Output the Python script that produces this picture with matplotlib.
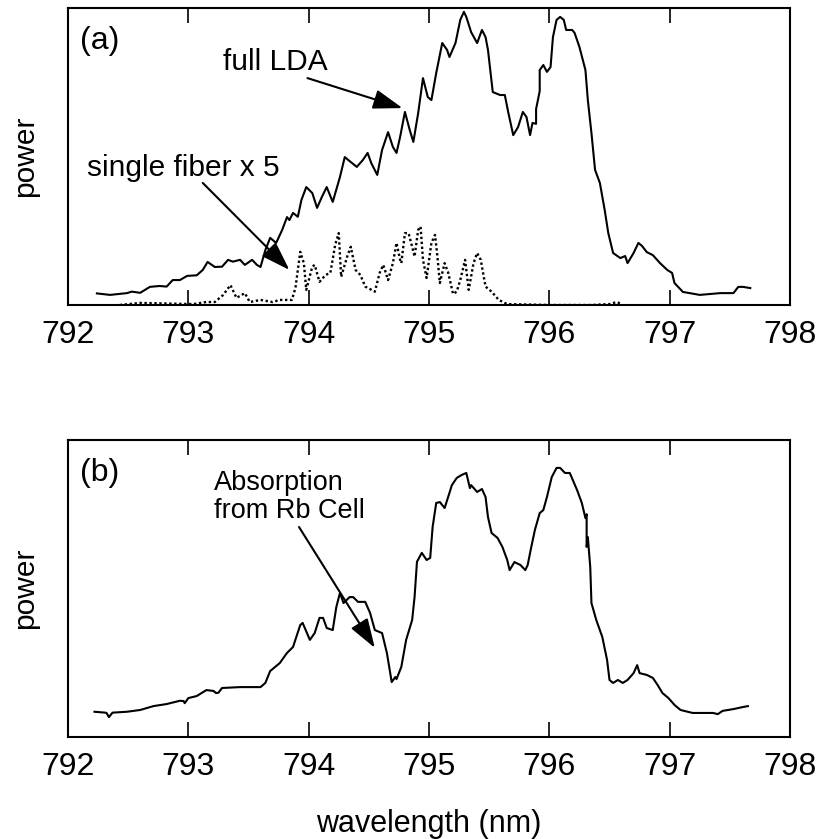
import matplotlib
matplotlib.use("Agg")
import matplotlib.pyplot as plt

plt.rcParams["font.family"] = ["Liberation Sans", "DejaVu Sans"]

# panel (a): full LDA spectrum (wavelength nm, power a.u.)
lda_wl = [792.24, 792.35, 792.49, 792.53, 792.60, 792.68, 792.76, 792.82, 792.87, 792.93,
          792.99, 793.07, 793.12, 793.16, 793.22, 793.28, 793.33, 793.37, 793.43, 793.47,
          793.53, 793.57, 793.60, 793.64, 793.68, 793.73, 793.78, 793.82, 793.84, 793.87,
          793.91, 793.94, 793.98, 794.03, 794.07, 794.11, 794.15, 794.20, 794.26, 794.30,
          794.36, 794.40, 794.45, 794.49, 794.52, 794.57, 794.61, 794.66, 794.70, 794.73,
          794.76, 794.80, 794.84, 794.87, 794.91, 794.95, 794.99, 795.02, 795.06, 795.11,
          795.15, 795.17, 795.22, 795.26, 795.29, 795.31, 795.35, 795.40, 795.44, 795.47,
          795.49, 795.53, 795.59, 795.63, 795.66, 795.70, 795.74, 795.78, 795.81, 795.84,
          795.86, 795.89, 795.89, 795.92, 795.92, 795.95, 795.98, 796.01, 796.03, 796.06,
          796.09, 796.12, 796.14, 796.19, 796.21, 796.25, 796.30, 796.32, 796.35, 796.38,
          796.42, 796.46, 796.49, 796.53, 796.59, 796.63, 796.65, 796.70, 796.74, 796.77,
          796.81, 796.86, 796.92, 796.98, 797.02, 797.04, 797.11, 797.25, 797.42, 797.53,
          797.57, 797.61, 797.67]
lda_pw = [0.039, 0.034, 0.040, 0.045, 0.041, 0.061, 0.064, 0.062, 0.084, 0.084,
          0.098, 0.100, 0.118, 0.145, 0.128, 0.129, 0.152, 0.146, 0.152, 0.135,
          0.152, 0.135, 0.128, 0.185, 0.226, 0.209, 0.253, 0.296, 0.286, 0.310,
          0.297, 0.354, 0.397, 0.377, 0.327, 0.364, 0.397, 0.347, 0.431, 0.498,
          0.478, 0.465, 0.488, 0.512, 0.478, 0.438, 0.522, 0.582, 0.532, 0.512,
          0.566, 0.650, 0.589, 0.549, 0.646, 0.764, 0.700, 0.690, 0.781, 0.882,
          0.859, 0.835, 0.882, 0.960, 0.987, 0.970, 0.919, 0.882, 0.926, 0.902,
          0.859, 0.717, 0.707, 0.707, 0.646, 0.572, 0.599, 0.650, 0.633, 0.572,
          0.613, 0.610, 0.660, 0.720, 0.791, 0.808, 0.785, 0.801, 0.902, 0.960,
          0.970, 0.960, 0.926, 0.926, 0.916, 0.869, 0.791, 0.690, 0.579, 0.455,
          0.411, 0.320, 0.242, 0.175, 0.158, 0.165, 0.141, 0.175, 0.209, 0.199,
          0.178, 0.168, 0.141, 0.118, 0.108, 0.074, 0.044, 0.034, 0.040, 0.040,
          0.061, 0.061, 0.057]

# panel (a): single fiber x 5
fib_wl = [792.43, 792.60, 793.04, 793.15, 793.22, 793.29, 793.35, 793.40, 793.47, 793.51,
          793.60, 793.70, 793.76, 793.86, 793.89, 793.93, 793.96, 793.98, 794.03, 794.05,
          794.09, 794.14, 794.18, 794.22, 794.25, 794.27, 794.32, 794.35, 794.39, 794.43,
          794.47, 794.55, 794.59, 794.62, 794.66, 794.70, 794.73, 794.76, 794.77, 794.80,
          794.83, 794.86, 794.88, 794.91, 794.93, 794.95, 794.98, 795.02, 795.05, 795.07,
          795.09, 795.13, 795.16, 795.20, 795.23, 795.26, 795.30, 795.33, 795.37, 795.40,
          795.43, 795.47, 795.52, 795.58, 795.65, 796.01, 796.34, 796.50, 796.56, 796.60]
fib_pw = [0.000, 0.007, 0.003, 0.010, 0.010, 0.034, 0.067, 0.024, 0.040, 0.010,
          0.017, 0.010, 0.017, 0.017, 0.057, 0.179, 0.141, 0.051, 0.129, 0.135,
          0.078, 0.101, 0.108, 0.202, 0.242, 0.095, 0.163, 0.196, 0.118, 0.101,
          0.062, 0.045, 0.108, 0.135, 0.084, 0.141, 0.209, 0.152, 0.141, 0.242,
          0.242, 0.196, 0.163, 0.253, 0.264, 0.152, 0.091, 0.209, 0.236, 0.163,
          0.074, 0.141, 0.108, 0.037, 0.045, 0.084, 0.152, 0.051, 0.141, 0.175,
          0.152, 0.062, 0.045, 0.017, 0.003, 0.000, 0.000, 0.003, 0.010, 0.003]

# panel (b): spectrum after Rb cell
rb_wl = [792.22, 792.31, 792.32, 792.34, 792.37, 792.49, 792.60, 792.71, 792.82, 792.93,
         792.96, 792.97, 793.00, 793.07, 793.15, 793.21, 793.23, 793.25, 793.28, 793.43,
         793.60, 793.64, 793.68, 793.76, 793.82, 793.87, 793.93, 793.95, 794.01, 794.05,
         794.09, 794.12, 794.15, 794.20, 794.23, 794.26, 794.29, 794.34, 794.37, 794.41,
         794.47, 794.51, 794.55, 794.61, 794.65, 794.69, 794.72, 794.73, 794.77, 794.81,
         794.86, 794.88, 794.90, 794.94, 794.98, 795.01, 795.03, 795.06, 795.09, 795.13,
         795.17, 795.19, 795.23, 795.27, 795.31, 795.34, 795.35, 795.40, 795.44, 795.47,
         795.49, 795.52, 795.57, 795.61, 795.65, 795.67, 795.71, 795.76, 795.80, 795.82,
         795.85, 795.88, 795.92, 795.95, 795.98, 796.02, 796.06, 796.09, 796.13, 796.17,
         796.23, 796.27, 796.30, 796.31, 796.31, 796.32, 796.34, 796.35, 796.39, 796.44,
         796.48, 796.50, 796.53, 796.57, 796.61, 796.65, 796.70, 796.73, 796.75, 796.81,
         796.86, 796.90, 796.94, 796.99, 797.04, 797.09, 797.19, 797.36, 797.40, 797.44,
         797.53, 797.61, 797.65]
rb_pw = [0.085, 0.082, 0.081, 0.067, 0.082, 0.085, 0.091, 0.104, 0.111, 0.122,
         0.121, 0.114, 0.131, 0.138, 0.158, 0.155, 0.148, 0.149, 0.165, 0.168,
         0.168, 0.182, 0.222, 0.249, 0.283, 0.303, 0.377, 0.384, 0.327, 0.350,
         0.401, 0.401, 0.367, 0.360, 0.438, 0.485, 0.451, 0.471, 0.471, 0.455,
         0.455, 0.418, 0.360, 0.350, 0.283, 0.185, 0.202, 0.195, 0.236, 0.327,
         0.394, 0.471, 0.590, 0.620, 0.596, 0.603, 0.707, 0.788, 0.791, 0.771,
         0.822, 0.848, 0.872, 0.882, 0.889, 0.838, 0.848, 0.825, 0.835, 0.808,
         0.741, 0.687, 0.670, 0.640, 0.596, 0.562, 0.589, 0.579, 0.562, 0.579,
         0.640, 0.697, 0.754, 0.764, 0.808, 0.875, 0.906, 0.906, 0.889, 0.889,
         0.832, 0.788, 0.737, 0.750, 0.640, 0.673, 0.572, 0.451, 0.394, 0.337,
         0.259, 0.192, 0.182, 0.192, 0.182, 0.192, 0.215, 0.242, 0.215, 0.209,
         0.199, 0.175, 0.148, 0.131, 0.108, 0.091, 0.081, 0.081, 0.077, 0.088,
         0.094, 0.101, 0.104]

xticks = [792, 793, 794, 795, 796, 797, 798]

W, H = 821, 839
fig = plt.figure(figsize=(W / 100, H / 100), dpi=100)
ax_a = fig.add_axes([68 / W, 1 - 305 / H, 722 / W, 297 / H])
ax_b = fig.add_axes([68 / W, 1 - 737 / H, 722 / W, 297 / H])

ax_a.plot(lda_wl, lda_pw, color="black", lw=1.5)
ax_a.plot(fib_wl, fib_pw, color="black", lw=1.7, ls=(0, (1, 1.1)))
ax_b.plot(rb_wl, rb_pw, color="black", lw=1.5)

arrow = dict(arrowstyle="-|>,head_length=0.9,head_width=0.3", color="black",
             lw=1.5, shrinkA=0, shrinkB=0, mutation_scale=20)

ax_a.text(793.29, 0.818, "full LDA", fontsize=21.5, va="center", ha="left")
ax_a.annotate("", xy=(794.78, 0.663), xytext=(793.99, 0.764), arrowprops=arrow)
ax_a.text(792.16, 0.461, "single fiber x 5", fontsize=21.5, va="center", ha="left")
ax_a.annotate("", xy=(793.84, 0.118), xytext=(793.12, 0.411), arrowprops=arrow)

ax_b.text(793.21, 0.807, "Absorption\nfrom Rb Cell", fontsize=19.5, va="center",
          ha="left", linespacing=1.1)
ax_b.annotate("", xy=(794.55, 0.300), xytext=(793.92, 0.707), arrowprops=arrow)

for ax, tag in [(ax_a, "(a)"), (ax_b, "(b)")]:
    ax.set_xlim(792, 798)
    ax.set_ylim(0, 1)
    ax.set_xticks(xticks)
    ax.set_yticks([])
    ax.tick_params(axis="x", direction="in", top=True, bottom=True,
                   length=11, width=1.2, labelsize=23, pad=11)
    for s in ax.spines.values():
        s.set_linewidth(1.5)
    ax.text(0.0166, 0.889, tag, transform=ax.transAxes, fontsize=23,
            va="center", ha="left")
    ax.set_ylabel("power", fontsize=21.5, va="center")
    ax.yaxis.set_label_coords(-0.0596, 0.5)

ax_b.set_xlabel("wavelength (nm)", fontsize=22, va="center")
ax_b.xaxis.set_label_coords(0.5, -0.292)

fig.savefig("out.png", dpi=100)
